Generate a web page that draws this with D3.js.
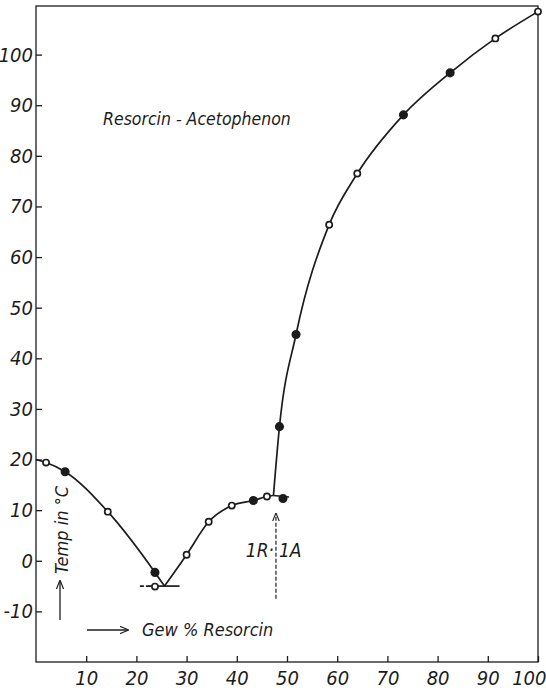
<!DOCTYPE html>
<html>
<head>
<meta charset="utf-8">
<script src="https://cdn.jsdelivr.net/npm/d3@7"></script>
<style>
  body { margin: 0; background: #fff; }
  text { font-family: "Liberation Sans Narrow", "DejaVu Sans Condensed", sans-serif; font-style: italic; fill: #1c1c1c; }
</style>
</head>
<body>
<svg id="chart" width="546" height="690"></svg>
<script>
// Gew % Resorcin vs Temp (°C)
let xTicks = [10, 20, 30, 40, 50, 60, 70, 80, 90, 100]
let yTicks = [-10, 0, 10, 20, 30, 40, 50, 60, 70, 80, 90, 100]

// measured points: composition, temperature, marker kind (o = open, f = filled)
let pointX    = [2, 5.8, 14.3, 23.7, 23.7, 30, 34.4, 39, 43.3, 46, 49.2, 48.5, 51.8, 58.4, 64, 73.2, 82.5, 91.5, 100]
let pointT    = [19.4, 17.6, 9.7, -2.3, -5.1, 1.2, 7.7, 10.9, 11.9, 12.7, 12.3, 26.5, 44.7, 66.4, 76.5, 88.1, 96.4, 103.2, 108.5]
let pointKind = ['o', 'f', 'o', 'f', 'o', 'o', 'o', 'o', 'f', 'o', 'f', 'f', 'f', 'o', 'o', 'f', 'f', 'o', 'o']

// drawn curves
let branchLeft  = [[0, 20], [2, 19.4], [5.8, 17.6], [14.3, 9.7], [23.7, -2.3], [25.6, -5]]
let branchMid   = [[25.6, -5], [30, 1.2], [34.4, 7.7], [39, 10.9], [43.3, 11.9], [46, 12.7], [47.3, 12.9]]
let branchUpper = [[47.3, 12.9], [48.5, 26.5], [51.8, 44.7], [58.4, 66.4], [64, 76.5], [73.2, 88.1], [82.5, 96.4], [91.5, 103.2], [100, 108.5]]
let shelfCompound = [[47.3, 12.9], [50.4, 12.6]]
let eutecticLine  = [[22.4, -5], [28.6, -5]]
let eutecticDash  = [[20.7, -5], [22.6, -5]]
let compoundX = 47.8   // 1R·1A
let compoundArrow = [-7.5, 9.3]

let svg = d3.select('#chart')
let ink = '#1c1c1c'

let x = d3.scaleLinear().domain([0, 100]).range([36, 538])
let y = d3.scaleLinear().domain([-20, 110]).range([662, 4])

// frame
svg.append('rect')
    .attr('x', x(0)).attr('y', 6)
    .attr('width', x(100) - x(0)).attr('height', y(-20) - 6)
    .attr('fill', 'none').attr('stroke', ink).attr('stroke-width', 1.3)

let yAxis = svg.append('g')
    .attr('transform', 'translate(' + x(0) + ',0)')
    .call(d3.axisLeft(y).tickValues(yTicks).tickFormat((d) => String(d)).tickSize(-6).tickPadding(3))
yAxis.attr('font-family', null).select('.domain').remove()
yAxis.selectAll('line').attr('stroke', ink).attr('stroke-width', 1.3)
yAxis.selectAll('text').attr('font-size', 20).attr('fill', ink)

let xAxis = svg.append('g')
    .attr('transform', 'translate(0,' + y(-20) + ')')
    .call(d3.axisBottom(x).tickValues(xTicks).tickSize(-6).tickPadding(9))
xAxis.attr('font-family', null).select('.domain').remove()
xAxis.selectAll('line').attr('stroke', ink).attr('stroke-width', 1.3)
xAxis.selectAll('text').attr('font-size', 20).attr('fill', ink)
// last label sits on the page edge
xAxis.selectAll('text').filter((d) => d === 100)
    .attr('text-anchor', 'end').attr('x', 8)

let curve = d3.line()
    .x((d) => x(d[0]))
    .y((d) => y(d[1]))
    .curve(d3.curveMonotoneX)

let straight = d3.line()
    .x((d) => x(d[0]))
    .y((d) => y(d[1]))

let lines = svg.append('g')
    .attr('fill', 'none').attr('stroke', ink).attr('stroke-width', 1.7)

lines.append('path').attr('d', curve(branchLeft))
lines.append('path').attr('d', curve(branchMid))
lines.append('path').attr('d', curve(branchUpper))
lines.append('path').attr('d', straight(shelfCompound))
lines.append('path').attr('d', straight(eutecticLine))
lines.append('path').attr('d', straight(eutecticDash)).attr('stroke-dasharray', '4,2')

// 1R·1A arrow
svg.append('defs').append('marker')
    .attr('id', 'head')
    .attr('viewBox', '0 0 10 10')
    .attr('refX', 9).attr('refY', 5)
    .attr('markerWidth', 7).attr('markerHeight', 7)
    .attr('orient', 'auto')
    .append('path')
    .attr('d', 'M0,1 L10,5 L0,9')
    .attr('fill', 'none').attr('stroke', ink).attr('stroke-width', 1.3)

svg.append('line')
    .attr('x1', x(compoundX)).attr('x2', x(compoundX))
    .attr('y1', y(compoundArrow[0])).attr('y2', y(compoundArrow[1]))
    .attr('stroke', ink).attr('stroke-width', 1.2)
    .attr('stroke-dasharray', '4,2')
    .attr('marker-end', 'url(#head)')

svg.append('text')
    .attr('x', x(compoundX) - 2).attr('y', 557)
    .attr('text-anchor', 'end').attr('font-size', 19)
    .text('1R·')
svg.append('text')
    .attr('x', x(compoundX) + 3).attr('y', 557)
    .attr('font-size', 19)
    .text('1A')

// points
let points = pointX.map((v, i) => ({ x: v, t: pointT[i], kind: pointKind[i] }))
svg.append('g')
    .selectAll('circle')
    .data(points)
    .enter()
    .append('circle')
    .attr('cx', (d) => x(d.x))
    .attr('cy', (d) => y(d.t))
    .attr('r', (d) => d.kind === 'f' ? 3.7 : 3.1)
    .attr('fill', (d) => d.kind === 'f' ? ink : '#fff')
    .attr('stroke', ink)
    .attr('stroke-width', 1.7)

// labels
svg.append('text')
    .attr('x', 103).attr('y', 125)
    .attr('font-size', 17.5)
    .text('Resorcin - Acetophenon')

svg.append('text')
    .attr('transform', 'translate(68,530) rotate(-90)')
    .attr('text-anchor', 'middle')
    .attr('font-size', 18)
    .text('Temp in °C')

svg.append('line')
    .attr('x1', 60).attr('x2', 60).attr('y1', 620).attr('y2', 581)
    .attr('stroke', ink).attr('stroke-width', 1.3)
    .attr('marker-end', 'url(#head)')

svg.append('line')
    .attr('x1', 87).attr('x2', 128).attr('y1', 630).attr('y2', 630)
    .attr('stroke', ink).attr('stroke-width', 1.3)
    .attr('marker-end', 'url(#head)')

svg.append('text')
    .attr('x', 142).attr('y', 636)
    .attr('font-size', 18)
    .text('Gew % Resorcin')
</script>
</body>
</html>
